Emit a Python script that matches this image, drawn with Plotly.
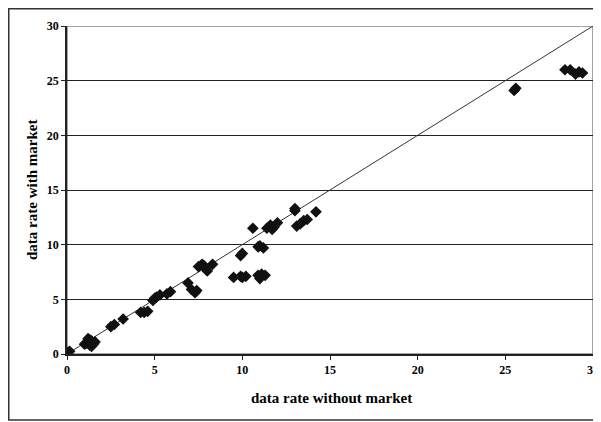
import plotly.graph_objects as go

# data rate without market (x) vs with market (y)
rate_without = [
    0.05, 0.15,
    1.0, 1.1, 1.2, 1.3, 1.4, 1.5, 1.6, 1.2, 1.4, 1.3, 1.5,
    2.5, 2.7,
    3.2,
    4.2, 4.4, 4.6,
    4.9, 5.0, 5.1, 5.3,
    5.7, 5.9,
    6.9,
    7.1, 7.3, 7.4,
    7.5, 7.7, 7.9, 8.0, 7.8, 8.3,
    9.5, 9.9, 10.0, 10.2,
    9.9, 10.0,
    10.6,
    10.9, 11.0, 11.2,
    10.9, 11.0, 11.1, 11.3,
    11.4, 11.6, 11.8, 12.0, 11.7,
    13.0, 13.0,
    13.1, 13.3, 13.5, 13.7,
    14.2,
    25.5, 25.6,
    28.4, 28.7,
    29.0, 29.2, 29.4,
]
rate_with = [
    0.15, 0.25,
    0.9, 1.0, 1.1, 0.8, 1.2, 1.0, 1.1, 1.4, 0.7, 1.3, 0.9,
    2.5, 2.7,
    3.2,
    3.8, 3.8, 3.9,
    4.9, 5.1, 5.2, 5.4,
    5.5, 5.7,
    6.5,
    5.9, 5.6, 5.8,
    8.0, 8.2, 7.8, 7.6, 8.1, 8.2,
    7.0, 7.1, 7.0, 7.1,
    9.0, 9.2,
    11.5,
    9.8, 9.9, 9.7,
    7.2, 6.9, 7.3, 7.2,
    11.5, 11.8, 11.6, 12.0, 11.4,
    13.1, 13.3,
    11.7, 11.9, 12.2, 12.3,
    13.0,
    24.1, 24.3,
    26.0, 26.0,
    25.6, 25.8, 25.7,
]
diag_x = [0, 30]
diag_y = [0, 30]
tick_vals = [0, 5, 10, 15, 20, 25, 30]

font_family = "Liberation Serif, Times New Roman, serif"
PW, PH = 526, 328  # plot area size in px
OX, OY = 67, 354   # plot origin in page px (x=0, y=0)
BODY = 8           # page body margin
FW, FH = 601, 422  # figure size

fig = go.Figure()
fig.add_trace(go.Scatter(
    x=diag_x, y=diag_y, mode="lines",
    line=dict(color="#333333", width=1), hoverinfo="skip", showlegend=False,
))
fig.add_trace(go.Scatter(
    x=rate_without, y=rate_with, mode="markers",
    marker=dict(symbol="diamond", size=9, color="#111111", line=dict(width=0)),
    showlegend=False,
))

fig.update_layout(
    width=FW, height=FH,
    margin=dict(l=OX - BODY, r=FW - (OX - BODY) - PW, t=(OY - PH) - BODY,
                b=FH - (OY - BODY), autoexpand=False),
    paper_bgcolor="white", plot_bgcolor="white",
    font=dict(family=font_family, color="black"),
    xaxis=dict(
        range=[0, 30], tickvals=tick_vals, showgrid=False, zeroline=False,
        showline=True, linecolor="#222222", linewidth=1.5, automargin=False,
        ticks="outside", ticklen=4, tickcolor="#222222", ticklabeloverflow="allow",
        tickfont=dict(family=font_family, size=12, color="black", weight="bold"),
    ),
    yaxis=dict(
        range=[0, 30], tickvals=tick_vals, showgrid=True, gridcolor="#222222", gridwidth=1,
        zeroline=False, showline=True, linecolor="#222222", linewidth=1.5, automargin=False,
        ticks="outside", ticklen=4, tickcolor="#222222", ticklabeloverflow="allow",
        tickfont=dict(family=font_family, size=12, color="black", weight="bold"),
    ),
    annotations=[
        dict(text="<b>data rate without market</b>", xref="paper", yref="paper",
             x=(331 - OX) / PW, y=(OY - 398) / PH, showarrow=False,
             xanchor="center", yanchor="middle",
             font=dict(family=font_family, size=15, color="black")),
        dict(text="<b>data rate with market</b>", xref="paper", yref="paper",
             x=(32 - OX) / PW, y=(OY - 190) / PH, showarrow=False, textangle=-90,
             xanchor="center", yanchor="middle",
             font=dict(family=font_family, size=15, color="black")),
    ],
    shapes=[
        dict(type="rect", xref="x", yref="y", x0=0, y0=0, x1=30, y1=30,
             line=dict(color="#888888", width=1.5), layer="below"),
        dict(type="rect", xref="paper", yref="paper",
             x0=(BODY + 0.75 - OX) / PW, y0=(OY - 420) / PH,
             x1=(600 - OX) / PW, y1=(OY - BODY - 0.75) / PH,
             line=dict(color="#333333", width=1.5)),
    ],
)

fig.write_html("out.html")
